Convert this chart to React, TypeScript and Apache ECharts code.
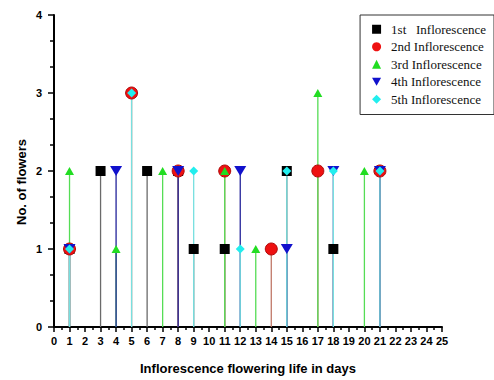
import React, { useEffect, useRef } from "react";
import * as echarts from "echarts";

const seriesNames = [
  "1st   Inflorescence",
  "2nd Inflorescence",
  "3rd Inflorescence",
  "4th Inflorescence",
  "5th Inflorescence",
];

// [day, number of flowers]
const first = [[1, 1], [3, 2], [6, 2], [8, 2], [9, 1], [11, 1], [15, 2], [18, 1]];
const second = [[1, 1], [5, 3], [8, 2], [11, 2], [14, 1], [17, 2], [21, 2]];
const third = [[1, 2], [4, 1], [7, 2], [11, 2], [13, 1], [17, 3], [20, 2]];
const fourth = [[1, 1], [4, 2], [8, 2], [12, 2], [15, 1], [18, 2], [21, 2]];
const fifth = [[1, 1], [5, 3], [9, 2], [12, 1], [15, 2], [18, 2], [21, 2]];

const xTicks = { min: 0, max: 25, interval: 1 };
const yTicks = { min: 0, max: 4, interval: 1 };

const allData = [first, second, third, fourth, fifth];
const markerColors = ["#000000", "#ee1111", "#22dd22", "#1111cc", "#22eeee"];
const stemColors = ["#6a6a6a", "#c07868", "#55dd55", "#222299", "#77e0e0"];
const symbols = ["rect", "circle", "triangle", "triangle", "diamond"];
const symbolSizes: any[] = [10, 12, [9, 8], [12, 10], 9];
const rotations = [0, 0, 0, 180, 0];
const legendIcons = ["rect", "circle", "triangle", "path://M0,0L10,0L5,9Z", "diamond"];

export default function App() {
  const ref = useRef<HTMLDivElement>(null);
  useEffect(() => {
    if (!ref.current) return;
    const chart = echarts.init(ref.current, undefined, { renderer: "svg" });
    const stems = allData.map((d, i) => ({
      type: "custom",
      silent: true,
      data: d,
      z: 2,
      renderItem: (params: any, api: any) => {
        const x = api.value(0);
        const y = api.value(1);
        const p0 = api.coord([x, 0]);
        const p1 = api.coord([x, y]);
        return {
          type: "line",
          shape: { x1: p0[0], y1: p0[1], x2: p1[0], y2: p1[1] },
          style: { stroke: stemColors[i], lineWidth: 1.3 },
        };
      },
    }));
    const markers = allData.map((d, i) => ({
      type: "scatter",
      name: seriesNames[i],
      data: d,
      z: 3,
      symbol: symbols[i],
      symbolSize: symbolSizes[i],
      symbolRotate: rotations[i],
      itemStyle: {
        color: markerColors[i],
        opacity: 1,
        borderColor: i === 1 ? "#b00808" : undefined,
        borderWidth: i === 1 ? 1 : 0,
      },
    }));
    const axisLabelStyle = {
      fontFamily: "Liberation Sans, Arial, sans-serif",
      fontWeight: "bold" as const,
      fontSize: 11,
      color: "#000",
    };
    chart.setOption({
      animation: false,
      backgroundColor: "#fff",
      grid: { left: 54, right: 52, top: 15, bottom: 50, containLabel: false },
      legend: {
        orient: "vertical",
        right: 0,
        top: 15,
        data: seriesNames.map((n, i) => ({
          name: n,
          icon: legendIcons[i],
          itemStyle: { color: markerColors[i], borderWidth: 0 },
        })),
        symbolRotate: 0,
        itemWidth: 9,
        itemHeight: 9,
        itemGap: 3,
        padding: [7, 8, 8, 12],
        borderColor: "#333",
        borderWidth: 1,
        backgroundColor: "#fff",
        textStyle: {
          fontFamily: "Liberation Serif, DejaVu Serif, serif",
          fontSize: 13,
          lineHeight: 14.5,
          color: "#111",
          padding: [0, 0, 0, 5],
        },
      },
      graphic: [
        {
          type: "text",
          x: 21,
          y: 182,
          rotation: Math.PI / 2,
          style: {
            text: "No. of flowers",
            fontFamily: "Liberation Sans Narrow, Arial Narrow, Liberation Sans, sans-serif",
            fontWeight: "bold",
            fontSize: 13,
            fill: "#000",
            align: "center",
            verticalAlign: "middle",
          },
        },
      ],
      xAxis: {
        type: "value",
        min: xTicks.min,
        max: xTicks.max,
        interval: xTicks.interval,
        name: "Inflorescence flowering life in days",
        nameLocation: "middle",
        nameGap: 35,
        nameTextStyle: {
          fontFamily: "Liberation Sans Narrow, Arial Narrow, Liberation Sans, sans-serif",
          fontWeight: "bold",
          fontSize: 13,
          color: "#000",
        },
        axisLine: { show: true, lineStyle: { color: "#000", width: 2 } },
        axisTick: { show: true, length: 5, lineStyle: { color: "#000", width: 1.5 } },
        minorTick: { show: true, splitNumber: 2, length: 3, lineStyle: { color: "#000", width: 1.5 } },
        axisLabel: { ...axisLabelStyle, margin: 8 },
        splitLine: { show: false },
      },
      yAxis: {
        type: "value",
        min: yTicks.min,
        max: yTicks.max,
        interval: yTicks.interval,
        axisLine: { show: true, lineStyle: { color: "#000", width: 2 } },
        axisTick: { show: true, length: 6, lineStyle: { color: "#000", width: 1.5 } },
        minorTick: { show: true, splitNumber: 3, length: 4, lineStyle: { color: "#000", width: 1.5 } },
        axisLabel: { ...axisLabelStyle, margin: 12 },
        splitLine: { show: false },
      },
      series: [...stems, ...markers],
    });
    return () => chart.dispose();
  }, []);
  return (
    <div
      ref={ref}
      style={{ position: "fixed", left: 0, top: 0, width: 494, height: 380 }}
    />
  );
}
